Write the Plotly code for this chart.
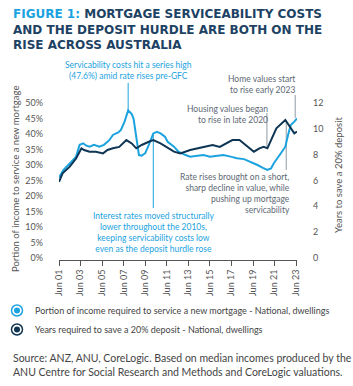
import plotly.graph_objects as go

# ---------------- data ----------------
svc_dates = ["2001-06", "2001-11", "2002-06", "2003-01", "2003-05", "2003-09", "2003-12",
             "2004-04", "2004-09", "2005-03", "2005-08", "2006-02", "2006-06", "2006-12",
             "2007-03", "2007-07", "2007-11", "2008-03", "2008-05", "2008-08", "2008-11",
             "2009-02", "2009-06", "2009-10", "2010-03", "2010-07", "2010-11", "2011-04",
             "2011-07", "2012-02", "2012-07", "2013-03", "2013-08", "2014-04", "2014-11",
             "2015-06", "2016-01", "2016-09", "2017-05", "2017-12", "2018-08", "2019-03",
             "2019-11", "2020-05", "2020-10", "2021-02", "2021-05", "2022-01", "2022-06",
             "2022-09", "2022-12", "2023-04", "2023-07"]
svc_values = [26.0, 28.4, 30.5, 32.7, 36.5, 37.0, 36.3,
              35.9, 36.5, 35.9, 36.5, 38.0, 39.7, 40.5,
              41.3, 44.0, 47.6, 46.4, 45.0, 38.6, 33.2,
              33.0, 33.8, 36.5, 40.2, 40.7, 40.2, 39.1,
              37.5, 35.9, 34.3, 33.2, 32.7, 33.0, 33.2,
              32.7, 33.0, 33.2, 32.7, 32.2, 31.9, 31.1,
              30.0, 29.1, 28.4, 28.9, 30.5, 33.8, 35.9,
              39.7, 42.9, 44.0, 45.0]

dep_dates = ["2001-06", "2001-10", "2002-06", "2003-01", "2003-07", "2003-10", "2004-04",
             "2004-11", "2005-07", "2005-12", "2006-06", "2007-01", "2007-09", "2008-03",
             "2008-08", "2009-02", "2009-10", "2010-03", "2010-11", "2011-06", "2012-02",
             "2012-09", "2013-08", "2014-11", "2015-09", "2016-05", "2017-07", "2018-03",
             "2018-10", "2019-07", "2020-01", "2020-06", "2020-10", "2021-08", "2022-06",
             "2022-12", "2023-04", "2023-07"]
dep_values = [5.9, 6.55, 7.07, 7.7, 8.49, 8.36, 8.23,
              8.23, 8.1, 8.36, 8.49, 8.6, 9.13, 8.87,
              8.49, 8.75, 9.0, 9.13, 8.87, 8.6, 8.23,
              8.1, 8.36, 8.6, 8.75, 8.6, 9.13, 9.13,
              8.75, 8.23, 8.49, 8.6, 8.49, 10.04, 10.68,
              10.04, 9.65, 9.78]

tick_dates = ["2001-06-01", "2003-06-01", "2005-06-01", "2007-06-01", "2009-06-01", "2011-06-01",
              "2013-06-01", "2015-06-01", "2017-06-01", "2019-06-01", "2021-06-01", "2023-06-01"]
tick_labels = ["Jun 01", "Jun 03", "Jun 05", "Jun 07", "Jun 09", "Jun 11",
               "Jun 13", "Jun 15", "Jun 17", "Jun 19", "Jun 21", "Jun 23"]
pct_ticks = [0, 5, 10, 15, 20, 25, 30, 35, 40, 45, 50]
yr_ticks = [0, 2, 4, 6, 8, 10, 12]

# callout leader lines: date, y-from, y-to (in % units of left axis), colour key
callout_dates = ["2007-11-01", "2010-03-01", "2020-09-15", "2022-07-01", "2023-05-01"]
callout_lo = [47.6, 16.1, 35.9, 28.4, 45.2]
callout_hi = [56.5, 40.2, 46.8, 44.5, 52.6]
callout_col = ["blue", "blue", "grey", "grey", "grey"]

# ---------------- style ----------------
BLUE = "#1ba3df"
NAVY = "#0e3553"
TITLE_NAVY = "#1d4263"
GREY_TXT = "#5d6873"
GREY_LINE = "#8e9aa5"
AX_TXT = "#555555"
FONT = "Lato"

W, H = 353, 386
ML, MR, MT, MB = 59, 56, 72, 126
PW, PH = W - ML - MR, H - MT - MB
PCT_MAX = 60.0
PCT_MIN = -0.65
YR_SCALE = 12 / 50


def px(x):
    return (x - ML) / PW


def py(y):
    return (H - MB - y) / PH


fig = go.Figure()
fig.add_trace(go.Scatter(x=svc_dates, y=svc_values, mode="lines",
                         line=dict(color=BLUE, width=2), showlegend=False,
                         name="Portion of income required to service a new mortgage - National, dwellings"))
fig.add_trace(go.Scatter(x=dep_dates, y=dep_values, mode="lines", yaxis="y2",
                         line=dict(color=NAVY, width=2), showlegend=False,
                         name="Years required to save a 20% deposit - National, dwellings"))

for d, lo, hi, c in zip(callout_dates, callout_lo, callout_hi, callout_col):
    fig.add_shape(type="line", xref="x", yref="y", x0=d, x1=d, y0=lo, y1=hi,
                  line=dict(color=BLUE if c == "blue" else GREY_LINE, width=1), layer="below")

ann = []
# title
ann.append(dict(xref="paper", yref="paper", x=px(11), y=py(5), xanchor="left", yanchor="top",
                align="left", showarrow=False,
                text=f"<span style='color:{BLUE}'>FIGURE 1:</span> MORTGAGE SERVICEABILITY COSTS<br>"
                     "AND THE DEPOSIT HURDLE ARE BOTH ON THE<br>RISE ACROSS AUSTRALIA",
                font=dict(family="DejaVu Sans", size=12, color=TITLE_NAVY, weight="bold")))
# callout texts
ann.append(dict(xref="paper", yref="paper", x=px(128), y=py(70.5), xanchor="center", yanchor="middle",
                align="center", showarrow=False,
                text="Servicability costs hit a series high<br>(47.6%) amid rate rises pre-GFC",
                font=dict(family=FONT, size=8.5, color=BLUE)))
ann.append(dict(xref="paper", yref="paper", x=px(297), y=py(84), xanchor="right", yanchor="middle",
                align="right", showarrow=False,
                text="Home values start<br>to rise early 2023",
                font=dict(family=FONT, size=8.5, color=GREY_TXT)))
ann.append(dict(xref="paper", yref="paper", x=px(270), y=py(114), xanchor="right", yanchor="middle",
                align="right", showarrow=False,
                text="Housing values began<br>to rise in late 2020",
                font=dict(family=FONT, size=8.5, color=GREY_TXT)))
ann.append(dict(xref="paper", yref="paper", x=px(292), y=py(193.5), xanchor="right", yanchor="middle",
                align="right", showarrow=False,
                text="Rate rises brought on a short,<br>sharp decline in value, while<br>pushing up mortgage<br>servicability",
                font=dict(family=FONT, size=8.5, color=GREY_TXT)))
ann.append(dict(xref="paper", yref="paper", x=px(153), y=py(232.5), xanchor="center", yanchor="middle",
                align="center", showarrow=False,
                text="Interest rates moved structurally<br>lower throughout the 2010s,<br>keeping servicability costs low<br>even as the deposit hurdle rose",
                font=dict(family=FONT, size=8.5, color=BLUE)))
# axis titles
ann.append(dict(xref="paper", yref="paper", x=px(15), y=py(179), xanchor="center", yanchor="middle",
                textangle=-90, showarrow=False,
                text="Portion of income to service a new mortgage",
                font=dict(family=FONT, size=9.5, color=AX_TXT)))
ann.append(dict(xref="paper", yref="paper", x=px(338), y=py(175), xanchor="center", yanchor="middle",
                textangle=-90, showarrow=False,
                text="Years to save a 20% deposit",
                font=dict(family=FONT, size=9.5, color=AX_TXT)))
# legend
legend_items = [("Portion of income required to service a new mortgage - National, dwellings", BLUE, 310.5),
                ("Years required to save a 20% deposit - National, dwellings", NAVY, 329.5)]
for txt, col, yy in legend_items:
    ann.append(dict(xref="paper", yref="paper", x=px(33), y=py(yy), xanchor="left", yanchor="middle",
                    showarrow=False, text=txt, font=dict(family=FONT, size=9, color="#444444")))
    fig.add_shape(type="circle", xref="paper", yref="paper",
                  x0=px(17 - 5.5), x1=px(17 + 5.5), y0=py(yy + 5.5), y1=py(yy - 5.5),
                  line=dict(color=col, width=1.5), fillcolor="white")
    fig.add_shape(type="circle", xref="paper", yref="paper",
                  x0=px(17 - 3), x1=px(17 + 3), y0=py(yy + 3), y1=py(yy - 3),
                  line=dict(width=0), fillcolor=col)
# source
ann.append(dict(xref="paper", yref="paper", x=px(11), y=py(350), xanchor="left", yanchor="top",
                align="left", showarrow=False,
                text="Source: ANZ, ANU, CoreLogic. Based on median incomes produced by the<br>"
                     "ANU Centre for Social Research and Methods and CoreLogic valuations.",
                font=dict(family=FONT, size=10.5, color="#444444")))

fig.update_layout(
    width=W, height=H,
    margin=dict(l=ML, r=MR, t=MT, b=MB, pad=0),
    paper_bgcolor="white", plot_bgcolor="white",
    showlegend=False,
    annotations=ann,
    xaxis=dict(type="date", range=["2001-06-01", "2023-07-01"],
               tickvals=tick_dates, ticktext=tick_labels, tickangle=-90,
               showgrid=False, zeroline=False, showline=True, linecolor="#555555", linewidth=1,
               ticks="outside", ticklen=5, tickcolor="#555555", tickwidth=1,
               tickfont=dict(family=FONT, size=9, color=AX_TXT)),
    yaxis=dict(range=[PCT_MIN, PCT_MAX], tickvals=pct_ticks,
               ticktext=[f"{v}%" for v in pct_ticks], showgrid=False, zeroline=False,
               showline=False, ticks="", ticklabelstandoff=15,
               tickfont=dict(family=FONT, size=9, color=AX_TXT)),
    yaxis2=dict(range=[PCT_MIN * YR_SCALE, PCT_MAX * YR_SCALE], tickvals=yr_ticks,
                overlaying="y", side="right", showgrid=False, zeroline=False,
                showline=False, ticks="", ticklabelstandoff=15,
                tickfont=dict(family=FONT, size=9, color=AX_TXT)),
)

fig.write_html("out.html")
